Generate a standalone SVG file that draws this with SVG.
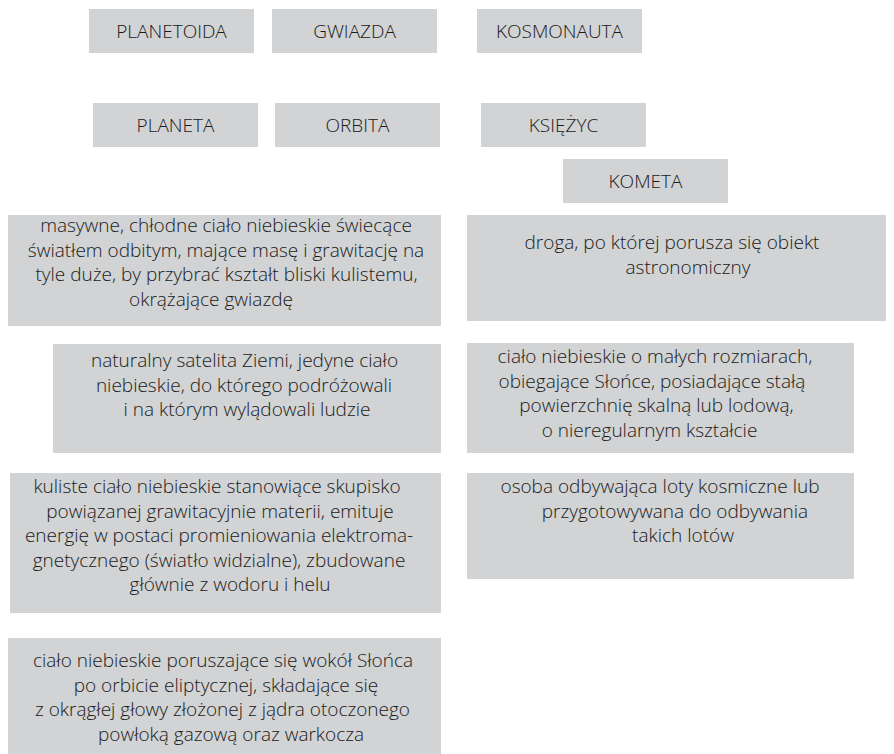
<svg xmlns="http://www.w3.org/2000/svg" width="894" height="754" viewBox="0 0 894 754">
<style>
rect.b{fill:#d1d3d4}
text{font-family:"Open Sans","Noto Sans","Liberation Sans",sans-serif;font-weight:300;fill:#1a1a1a;text-anchor:middle}
.t{font-size:19px}
.d{font-size:19px}
</style>
<rect x="0" y="0" width="894" height="754" fill="#ffffff"/>
<g id="connectors"/>
<g id="planetoida"><rect class="b" x="89" y="9" width="165" height="44"/><text class="t" x="171.5" y="37.5">PLANETOIDA</text></g>
<g id="gwiazda"><rect class="b" x="272" y="9" width="165" height="44"/><text class="t" x="354.5" y="37.5">GWIAZDA</text></g>
<g id="kosmonauta"><rect class="b" x="477" y="9" width="165" height="44"/><text class="t" x="559.5" y="37.5">KOSMONAUTA</text></g>
<g id="planeta"><rect class="b" x="93" y="103" width="165" height="44"/><text class="t" x="175.5" y="131.5">PLANETA</text></g>
<g id="orbita"><rect class="b" x="275" y="103" width="165" height="44"/><text class="t" x="357.5" y="131.5">ORBITA</text></g>
<g id="ksiezyc"><rect class="b" x="481" y="103" width="165" height="44"/><text class="t" x="563.5" y="131.5">KSIĘŻYC</text></g>
<g id="kometa"><rect class="b" x="563" y="159" width="165" height="44"/><text class="t" x="645.5" y="187.5">KOMETA</text></g>
<g id="def-planeta"><rect class="b" x="8" y="215" width="433" height="111"/>
<text class="d" x="226" y="232">masywne, chłodne ciało niebieskie świecące</text>
<text class="d" x="226" y="256.5">światłem odbitym, mające masę i grawitację na</text>
<text class="d" x="226.5" y="281">tyle duże, by przybrać kształt bliski kulistemu,</text>
<text class="d" x="211" y="305.5">okrążające gwiazdę</text></g>
<g id="def-orbita"><rect class="b" x="467" y="215" width="419" height="106"/>
<text class="d" x="672" y="249">droga, po której porusza się obiekt</text>
<text class="d" x="688" y="273.5">astronomiczny</text></g>
<g id="def-ksiezyc"><rect class="b" x="53" y="344" width="388" height="109"/>
<text class="d" x="244.5" y="367">naturalny satelita Ziemi, jedyne ciało</text>
<text class="d" x="244" y="391.5">niebieskie, do którego podróżowali</text>
<text class="d" x="247" y="416">i na którym wylądowali ludzie</text></g>
<g id="def-planetoida"><rect class="b" x="467" y="343" width="387" height="110"/>
<text class="d" x="655" y="363">ciało niebieskie o małych rozmiarach,</text>
<text class="d" x="652" y="387.5">obiegające Słońce, posiadające stałą</text>
<text class="d" x="656.5" y="412">powierzchnię skalną lub lodową,</text>
<text class="d" x="649.5" y="436.5">o nieregularnym kształcie</text></g>
<g id="def-gwiazda"><rect class="b" x="10" y="473" width="431" height="140"/>
<text class="d" x="217" y="493">kuliste ciało niebieskie stanowiące skupisko</text>
<text class="d" x="220" y="517.5">powiązanej grawitacyjnie materii, emituje</text>
<text class="d" x="219" y="542">energię w postaci promieniowania elektroma-</text>
<text class="d" x="219" y="566.5">gnetycznego (światło widzialne), zbudowane</text>
<text class="d" x="230" y="591">głównie z wodoru i helu</text></g>
<g id="def-kosmonauta"><rect class="b" x="467" y="473" width="387" height="106"/>
<text class="d" x="660" y="493">osoba odbywająca loty kosmiczne lub</text>
<text class="d" x="675" y="517.5">przygotowywana do odbywania</text>
<text class="d" x="683" y="542">takich lotów</text></g>
<g id="def-kometa"><rect class="b" x="8" y="638" width="433" height="116"/>
<text class="d" x="223" y="667">ciało niebieskie poruszające się wokół Słońca</text>
<text class="d" x="226" y="691.5">po orbicie eliptycznej, składające się</text>
<text class="d" x="222.5" y="716">z okrągłej głowy złożonej z jądra otoczonego</text>
<text class="d" x="231" y="740.5">powłoką gazową oraz warkocza</text></g>
</svg>
